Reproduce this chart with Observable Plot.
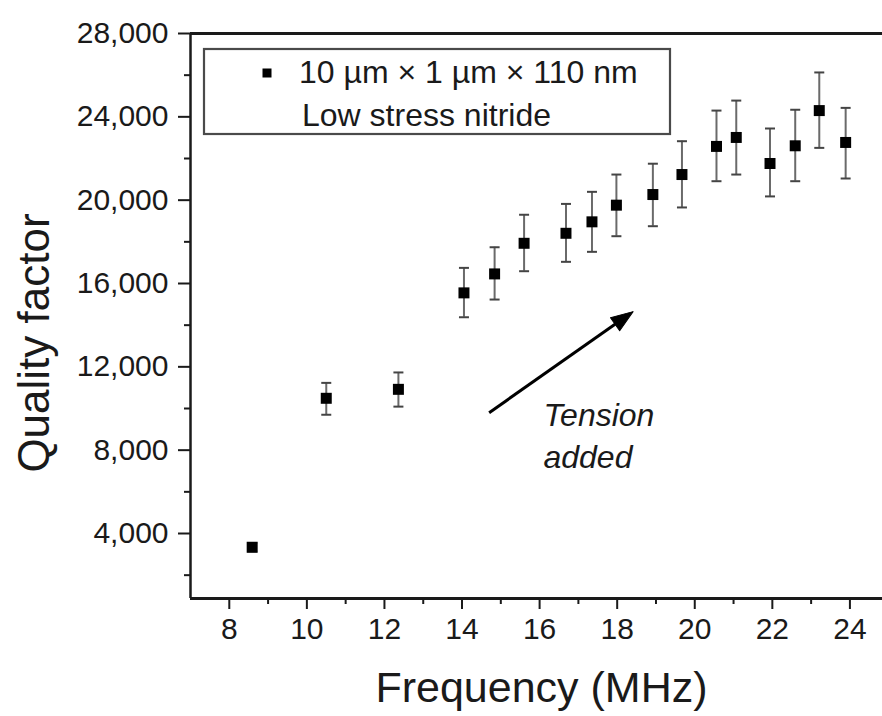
<!DOCTYPE html>
<html><head><meta charset="utf-8">
<script src="https://cdn.jsdelivr.net/npm/d3@7"></script>
<script src="https://cdn.jsdelivr.net/npm/@observablehq/plot@0.6"></script>
<style>
body{margin:0;background:#fff}
#chart{position:relative;width:882px;height:716px;overflow:hidden}
</style>
</head><body><div id="chart"></div>
<script>
// ---- data ----
const frequency = [8.59, 10.5, 12.36, 14.05, 14.84, 15.6, 16.68, 17.35, 17.98, 18.92, 19.67, 20.56, 21.07, 21.94, 22.59, 23.21, 23.89];
const quality = [3340, 10490, 10920, 15550, 16460, 17930, 18410, 18960, 19760, 20270, 21230, 22580, 23010, 21760, 22610, 24300, 22770];
const qualityUpper = [3540, 11230, 11730, 16750, 17740, 19300, 19820, 20400, 21230, 21750, 22830, 24300, 24780, 23440, 24340, 26130, 24430];
const qualityLower = [3140, 9700, 10090, 14380, 15230, 16590, 17040, 17520, 18270, 18750, 19650, 20910, 21230, 20180, 20910, 22510, 21040];

const xTicks = [8, 10, 12, 14, 16, 18, 20, 22, 24];
const xMinorTicks = [9, 11, 13, 15, 17, 19, 21, 23];
const yTicks = [4000, 8000, 12000, 16000, 20000, 24000, 28000];
const yMinorTicks = [2000, 6000, 10000, 14000, 18000, 22000, 26000];
const xDomain = [7, 24.84];
const yDomain = [880, 28000];

const xLabel = "Frequency (MHz)";
const yLabel = "Quality factor";
const legendLines = ["10 µm × 1 µm × 110 nm", "Low stress nitride"];
const annotationText = "Tension\nadded";
const annotationPos = [16.1, 10570];
const arrowTail = [14.7, 9800];
const arrowTip = [18.41, 14650];

// ---- layout ----
const W = 882, H = 716, mL = 190, mR = 0, mT = 33, mB = 118;
const FONT = "'Liberation Sans', Arial, Helvetica, sans-serif";
const INK = "#1a1a1a";

const data = frequency.map((f, i) => ({f, q: quality[i], hi: qualityUpper[i], lo: qualityLower[i]}));

const sx = d3.scaleLinear(xDomain, [mL, W - mR]);
const sy = d3.scaleLinear(yDomain, [H - mB, mT]);
const pdx = sx(arrowTip[0]) - sx(arrowTail[0]);
const pdy = sy(arrowTip[1]) - sy(arrowTail[1]);
const arrowAngle = Math.atan2(pdx, -pdy) * 180 / Math.PI;
const plen = Math.hypot(pdx, pdy);
const headLen = 22;
const shrink = (headLen - 6) / plen;
const arrowLineEnd = [arrowTip[0] - (arrowTip[0] - arrowTail[0]) * shrink, arrowTip[1] - (arrowTip[1] - arrowTail[1]) * shrink];

const capSymbol = {draw(ctx, size) { const r = Math.sqrt(size / Math.PI); ctx.moveTo(-r, 0); ctx.lineTo(r, 0); }};
const spikeShape = {draw(ctx, l, r) { ctx.moveTo(-r, 0); ctx.lineTo(0, -l); ctx.lineTo(r, 0); ctx.closePath(); }};

const plot = Plot.plot({
  width: W, height: H,
  marginLeft: mL, marginRight: mR, marginTop: mT, marginBottom: mB,
  x: {domain: xDomain},
  y: {domain: yDomain},
  style: {fontFamily: FONT, color: INK, background: "white", overflow: "visible"},
  marks: [
    // error bars
    Plot.ruleX(data, {x: "f", y1: "lo", y2: "hi", stroke: "#6a6a6a", strokeWidth: 2}),
    Plot.dot(data, {x: "f", y: "hi", symbol: capSymbol, r: 5, stroke: "#444", strokeWidth: 2, fill: "none"}),
    Plot.dot(data, {x: "f", y: "lo", symbol: capSymbol, r: 5, stroke: "#444", strokeWidth: 2, fill: "none"}),
    // points
    Plot.dot(data, {x: "f", y: "q", symbol: "square", r: 6.2, fill: "#000", stroke: "none"}),
    // arrow annotation
    Plot.link([0], {x1: () => arrowTail[0], y1: () => arrowTail[1], x2: () => arrowLineEnd[0], y2: () => arrowLineEnd[1], stroke: "#000", strokeWidth: 3}),
    Plot.vector([0], {x: () => arrowTip[0], y: () => arrowTip[1], length: headLen, r: 8, rotate: arrowAngle, shape: spikeShape, anchor: "end", fill: "#000", stroke: "#000", strokeWidth: 1}),
    Plot.text([annotationText], {x: () => annotationPos[0], y: () => annotationPos[1], textAnchor: "start", lineAnchor: "top", lineHeight: 1.3, fontSize: 32, fontStyle: "italic", fill: INK}),
    // frame lines
    Plot.ruleY([yDomain[1]], {stroke: INK, strokeWidth: 3}),
    Plot.ruleY([yDomain[0]], {stroke: INK, strokeWidth: 3}),
    Plot.ruleX([xDomain[0]], {stroke: INK, strokeWidth: 2.5}),
    // axes
    Plot.axisX(xTicks, {tickSize: 11, tickPadding: 8, fontSize: 30, tickFormat: d => String(d), label: null, strokeWidth: 2}),
    Plot.axisX(xMinorTicks, {tickSize: 6, tickFormat: () => "", label: null, strokeWidth: 2}),
    Plot.axisY(yTicks, {tickSize: 12, tickPadding: 10, fontSize: 30, tickFormat: d3.format(","), label: null, strokeWidth: 2}),
    Plot.axisY(yMinorTicks, {tickSize: 6, tickFormat: () => "", label: null, strokeWidth: 2}),
    // axis titles
    Plot.text([yLabel], {frameAnchor: "left", dx: -156, dy: 27, rotate: -90, fontSize: 44, textAnchor: "middle", lineAnchor: "middle", fill: INK}),
    Plot.text([xLabel], {frameAnchor: "bottom", dx: 5, dy: 90, fontSize: 43, textAnchor: "middle", lineAnchor: "middle", fill: INK})
  ]
});

document.getElementById("chart").appendChild(plot);
const svgEl = plot.tagName.toLowerCase() === "svg" ? plot : plot.querySelector("svg");
const svg = d3.select(svgEl);

// legend (inside plot area)
const lg = svg.append("g").style("font-family", FONT).style("fill", INK);
lg.append("rect").attr("x", 204).attr("y", 49).attr("width", 466).attr("height", 85)
  .style("fill", "white").style("stroke", "#4a4a4a").style("stroke-width", "2.2px");
lg.append("rect").attr("x", 262.5).attr("y", 68.5).attr("width", 9).attr("height", 9).style("fill", "#000");
lg.append("text").attr("x", 299).attr("y", 83)
  .style("font-size", "32px").style("text-anchor", "start").style("font-family", FONT).text(legendLines[0]);
lg.append("text").attr("x", 302).attr("y", 126)
  .style("font-size", "32px").style("text-anchor", "start").style("font-family", FONT).text(legendLines[1]);
</script>
</body></html>
